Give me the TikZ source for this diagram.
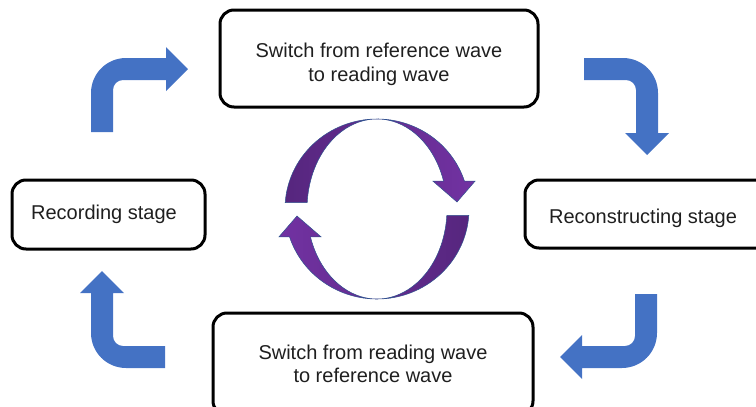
\documentclass[tikz,border=0pt]{standalone}
\usepackage{fontspec}
\setmainfont{Liberation Sans}
\definecolor{arrowblue}{RGB}{68,114,196}
\definecolor{purpledark}{RGB}{86,38,126}
\definecolor{purplelight}{RGB}{114,50,162}
\definecolor{edgeblue}{RGB}{47,82,143}

\tikzset{
    stage/.style={draw, line width=3pt, rounded corners=14pt, align=center, inner sep=0pt,
        font=\fontsize{20}{23.5}\selectfont, text=black!88},
    bent/.pic={
        \fill[arrowblue] (0,-74) -- (0,-35) arc[start angle=180, end angle=90, radius=35pt]
            -- (75,0) -- (75,11) -- (97,-11) -- (75,-33) -- (75,-22) -- (32,-22)
            arc[start angle=90, end angle=180, radius=10pt] -- (22,-74) -- cycle;
    },
    turn/.style={draw=edgeblue, line width=0.5pt}
}

\begin{document}
\begin{tikzpicture}[x=1pt, y=1pt]

    \useasboundingbox (0,0) rectangle (756,-407);
    \clip (0,0) rectangle (756,-407);

    % stages
    \node[stage, minimum width=318pt, minimum height=97pt] (toread) at (379,-58.5) {\rule{0pt}{26pt}Switch from reference wave\\to reading wave};
    \node[stage, minimum width=193pt, minimum height=69pt] (record) at (108.5,-214.5) {Recording stage\hspace*{9pt}};
    \node[stage, minimum width=260pt, minimum height=68pt] (recon) at (655,-214) {\rule{0pt}{23pt}Reconstructing stage\hspace*{24pt}};
    \node[stage, minimum width=320pt, minimum height=102pt] (toref) at (373,-364) {Switch from reading wave\\to reference wave};

    % blue bent arrows
    \pic at (91,-58) {bent};
    \pic[rotate=-90] at (658,-58) {bent};
    \pic[rotate=180] at (657,-368) {bent};
    \pic[rotate=90] at (91,-368) {bent};

    % purple cycle
    \begin{scope}[shift={(377,-209)}]
        \path[turn, left color=purpledark, right color=purplelight] (-91.8,6.3)
            arc[start angle=176, end angle=18, x radius=92pt, y radius=90pt]
            -- (98,27.8) -- (80,7) -- (56,27.8) -- (66.6,27.8)
            arc[start angle=18, end angle=176, x radius=70pt, y radius=90pt] -- cycle;
    \end{scope}
    \begin{scope}[shift={(377,-209)}, rotate=180]
        \path[turn, left color=purplelight, right color=purpledark] (-91.8,6.3)
            arc[start angle=176, end angle=18, x radius=92pt, y radius=90pt]
            -- (98,27.8) -- (80,7) -- (56,27.8) -- (66.6,27.8)
            arc[start angle=18, end angle=176, x radius=70pt, y radius=90pt] -- cycle;
    \end{scope}

\end{tikzpicture}
\end{document}
